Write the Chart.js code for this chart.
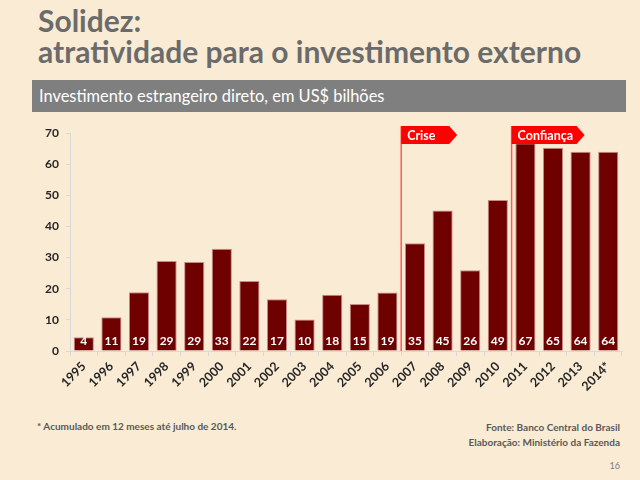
<!DOCTYPE html>
<html>
<head>
<meta charset="utf-8">
<script src="https://cdn.jsdelivr.net/npm/chart.js@4"></script>
<style>
  body { margin: 0; width: 640px; height: 480px; background: #FAEBD4; overflow: hidden; font-family: Lato, "Open Sans", sans-serif; position: relative; }
  .title { position: absolute; left: 38px; top: 5px; color: #6b6b6b; font-weight: bold; font-size: 30px; line-height: 31px; }
  .band { position: absolute; left: 32px; top: 80px; width: 594px; height: 32px; background: #7f7f7f; color: #fff; font-size: 16.4px; line-height: 32px; }
  .band span { margin-left: 7px; }
  .note { position: absolute; font-size: 10px; font-weight: bold; color: #595959; }
  #wrap { position: absolute; left: 0; top: 115px; width: 640px; height: 300px; }
</style>
</head>
<body>
<div class="title">Solidez:<br>atratividade para o investimento externo</div>
<div class="band"><span>Investimento estrangeiro direto, em US$ bilhões</span></div>
<div id="wrap"><canvas id="fdiChart"></canvas></div>
<div class="note" style="left:37px; top:420px;">* Acumulado em 12 meses até julho de 2014.</div>
<div class="note" style="right:20px; top:420px; text-align:right; line-height:15px;">Fonte: Banco Central do Brasil<br>Elaboração: Ministério da Fazenda</div>
<div class="note" style="right:20px; top:460px; font-weight:normal; font-size:9px; color:#7f7f7f;">16</div>
<script>
// Chart data
const years = ["1995", "1996", "1997", "1998", "1999", "2000", "2001", "2002", "2003", "2004",
  "2005", "2006", "2007", "2008", "2009", "2010", "2011", "2012", "2013", "2014*"];
const fdiValues = [4.4, 10.8, 18.9, 28.9, 28.6, 32.8, 22.5, 16.6, 10.1, 18.1,
  15.1, 18.8, 34.6, 45.1, 25.9, 48.5, 66.7, 65.3, 64.0, 64.0];
const valueLabels = ["4", "11", "19", "29", "29", "33", "22", "17", "10", "18",
  "15", "19", "35", "45", "26", "49", "67", "65", "64", "64"];
const yTicks = [0, 10, 20, 30, 40, 50, 60, 70];
// markers: label and index of the first year after the line
const markers = [
  { text: "Crise", index: 12, width: 56 },
  { text: "Confiança", index: 16, width: 73 },
];

const fontFam = "Lato, 'Open Sans', sans-serif";

// white value labels near the bottom of each bar
const barLabels = {
  id: "barLabels",
  afterDatasetsDraw(chart) {
    const c = chart.ctx;
    const meta = chart.getDatasetMeta(0);
    const base = chart.scales.y.getPixelForValue(0);
    c.save();
    c.fillStyle = "#ffffff";
    c.font = "bold 12px " + fontFam;
    c.textAlign = "center";
    c.textBaseline = "middle";
    meta.data.forEach((bar, i) => {
      c.fillText(valueLabels[i], bar.x, base - 10);
    });
    c.restore();
  },
};

// red lines with flag labels
const flags = {
  id: "flags",
  afterDraw(chart) {
    const c = chart.ctx;
    const x = chart.scales.x;
    const top = chart.chartArea.top - 7;
    const bottom = chart.chartArea.bottom;
    c.save();
    markers.forEach((m) => {
      const lx = (x.getPixelForValue(m.index - 1) + x.getPixelForValue(m.index)) / 2;
      c.strokeStyle = "#ff5a5a";
      c.lineWidth = 1.5;
      c.beginPath();
      c.moveTo(lx, top);
      c.lineTo(lx, bottom);
      c.stroke();
      const h = 18;
      c.fillStyle = "#ff0000";
      c.beginPath();
      c.moveTo(lx, top);
      c.lineTo(lx + m.width - 8, top);
      c.lineTo(lx + m.width, top + h / 2);
      c.lineTo(lx + m.width - 8, top + h);
      c.lineTo(lx, top + h);
      c.closePath();
      c.fill();
      c.fillStyle = "#ffffff";
      c.font = "bold 12.5px " + fontFam;
      c.textAlign = "left";
      c.textBaseline = "middle";
      c.fillText(m.text, lx + 6, top + h / 2 + 1);
    });
    c.restore();
  },
};

new Chart(document.getElementById("fdiChart"), {
  type: "bar",
  data: {
    labels: years,
    datasets: [
      {
        data: fdiValues,
        backgroundColor: "#6e0000",
        borderColor: "#c98a8a",
        borderWidth: 1,
        categoryPercentage: 1,
        barPercentage: 0.73,
      },
    ],
  },
  options: {
    responsive: true,
    maintainAspectRatio: false,
    animation: false,
    layout: { padding: { top: 18, right: 18, left: 0, bottom: 0 } },
    plugins: { legend: { display: false }, tooltip: { enabled: false } },
    scales: {
      x: {
        afterFit(s) { s.height = 64; },
        grid: { drawOnChartArea: false, color: "#d9d9d9", tickLength: 5 },
        border: { color: "#d9d9d9" },
        ticks: {
          color: "#262626",
          font: { family: fontFam, size: 12.5, weight: "bold" },
          maxRotation: 45,
          minRotation: 45,
          autoSkip: false,
          padding: 3,
        },
      },
      y: {
        min: 0,
        max: 70,
        afterFit(s) { s.width = 70; },
        afterBuildTicks(s) { s.ticks = yTicks.map((v) => ({ value: v })); },
        grid: { drawOnChartArea: false, color: "#d9d9d9", tickLength: 4 },
        border: { color: "#d9d9d9" },
        ticks: {
          color: "#262626",
          font: { family: fontFam, size: 12, weight: "bold" },
          padding: 7,
        },
      },
    },
  },
  plugins: [barLabels, flags],
});
</script>
</body>
</html>
